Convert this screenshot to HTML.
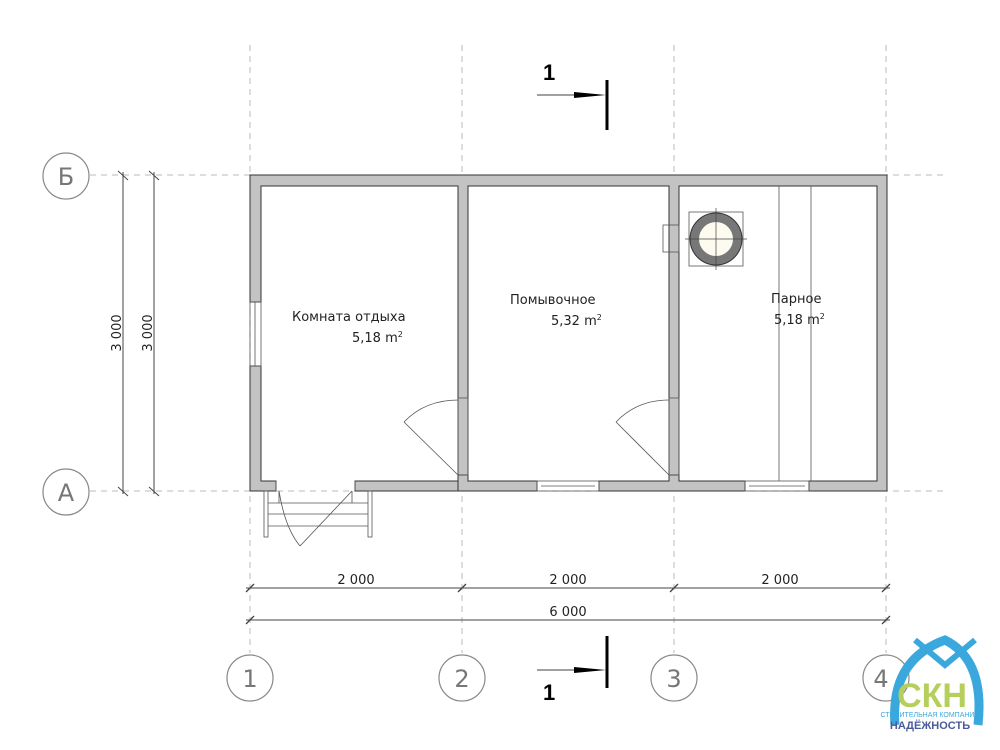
<!DOCTYPE html>
<html><head><meta charset="utf-8"><style>body{margin:0;background:#fff}svg{display:block}</style></head><body>
<svg width="1000" height="750" viewBox="0 0 1000 750" xmlns="http://www.w3.org/2000/svg" font-family="Liberation Sans, DejaVu Sans, sans-serif">
<!-- grid lines -->
<g stroke="#bbb" stroke-width="1" stroke-dasharray="6,5" fill="none">
<line x1="250" y1="45" x2="250" y2="653"/><line x1="462" y1="45" x2="462" y2="653"/><line x1="674" y1="45" x2="674" y2="653"/><line x1="886" y1="45" x2="886" y2="653"/>
<line x1="90" y1="175" x2="945" y2="175"/><line x1="90" y1="491" x2="945" y2="491"/>
</g>
<!-- walls -->
<g fill="#c3c3c3" stroke="#333" stroke-width="1">
<path d="M250,175 H887 V491 H809 V481 H877 V186 H679 V475 H669 V186 H468 V475 H458 V186 H261 V302 H250 Z"/>
<path d="M250,366 H261 V481 H276 V491 H250 Z"/>
<path d="M355,481 H458 V491 H355 Z"/>
<path d="M458,475 H468 V481 H537 V491 H458 Z"/>
<path d="M599,481 H669 V475 H679 V481 H745 V491 H599 Z"/>
</g>
<g fill="none" stroke="#555" stroke-width="0.8">
<!-- left window -->
<rect x="250" y="302" width="11" height="64"/><line x1="255" y1="302" x2="255" y2="366"/>
<!-- bottom windows -->
<rect x="537" y="481" width="62" height="10"/><line x1="541" y1="486" x2="595" y2="486"/>
<rect x="745" y="481" width="64" height="10"/><line x1="749" y1="486" x2="805" y2="486"/>
<!-- door openings -->
<rect x="458" y="398" width="10" height="77"/><rect x="669" y="398" width="10" height="77"/>
<!-- doors -->
<line x1="458" y1="475" x2="404" y2="422"/><path d="M404,422 Q425,400 458,400"/>
<line x1="669" y1="475" x2="616" y2="422"/><path d="M616,422 Q637,400 669,400"/>
<!-- entrance -->
<line x1="276" y1="481" x2="276" y2="491"/><line x1="355" y1="481" x2="355" y2="491"/>
<line x1="279" y1="491" x2="279" y2="503"/><line x1="352" y1="491" x2="352" y2="503"/>
<line x1="352" y1="491" x2="300" y2="546"/><path d="M279,491 Q285,528 300,546"/>
<!-- stairs -->
<rect x="264" y="491" width="4" height="46"/><rect x="368" y="491" width="4" height="46"/>
<line x1="268" y1="503" x2="368" y2="503"/><line x1="268" y1="514" x2="368" y2="514"/><line x1="268" y1="526" x2="368" y2="526"/>
<!-- shelves -->
<line x1="779" y1="186" x2="779" y2="481"/><line x1="811" y1="186" x2="811" y2="481"/>
<!-- stove -->
<rect x="663" y="225" width="16" height="27"/>
<rect x="689" y="212" width="54" height="54"/>
</g>
<circle cx="716" cy="239" r="26" fill="#777" stroke="#333" stroke-width="1"/>
<circle cx="716" cy="239" r="17" fill="#fdfaf0"/>
<g stroke="#444" stroke-width="0.7"><line x1="716" y1="208" x2="716" y2="270"/><line x1="685" y1="239" x2="747" y2="239"/></g>
<!-- room labels -->
<g font-size="13" fill="#222" font-family="DejaVu Sans, sans-serif">
<text x="292" y="321">Комната отдыха</text><text x="352" y="342">5,18 m<tspan font-size="8" dy="-5">2</tspan></text>
<text x="510" y="304">Помывочное</text><text x="551" y="325">5,32 m<tspan font-size="8" dy="-5">2</tspan></text>
<text x="771" y="303">Парное</text><text x="774" y="324">5,18 m<tspan font-size="8" dy="-5">2</tspan></text>
</g>
<!-- dimensions -->
<g stroke="#444" stroke-width="1">
<line x1="123" y1="172" x2="123" y2="494"/><line x1="154" y1="172" x2="154" y2="494"/>
<line x1="118" y1="171" x2="128" y2="180"/><line x1="118" y1="487" x2="128" y2="496"/>
<line x1="149" y1="171" x2="159" y2="180"/><line x1="149" y1="487" x2="159" y2="496"/>
<line x1="246" y1="588" x2="890" y2="588"/><line x1="246" y1="620" x2="890" y2="620"/>
<g stroke-width="1.3">
<line x1="246" y1="592" x2="254" y2="584"/><line x1="458" y1="592" x2="466" y2="584"/><line x1="670" y1="592" x2="678" y2="584"/><line x1="882" y1="592" x2="890" y2="584"/>
<line x1="246" y1="624" x2="254" y2="616"/><line x1="882" y1="624" x2="890" y2="616"/>
</g>
</g>
<g font-size="13" fill="#222" font-family="DejaVu Sans, sans-serif" text-anchor="middle">
<text transform="translate(121,333) rotate(-90)">3 000</text>
<text transform="translate(152,333) rotate(-90)">3 000</text>
<text x="356" y="584">2 000</text><text x="568" y="584">2 000</text><text x="780" y="584">2 000</text>
<text x="568" y="616">6 000</text>
</g>
<!-- axis circles -->
<g fill="#fff" stroke="#888" stroke-width="1.2">
<circle cx="66" cy="176" r="23"/><circle cx="66" cy="492" r="23"/>
<circle cx="250" cy="678" r="23"/><circle cx="462" cy="678" r="23"/><circle cx="674" cy="678" r="23"/><circle cx="886" cy="678" r="23"/>
</g>
<g font-size="24" fill="#777" text-anchor="middle" font-family="DejaVu Sans, sans-serif">
<text x="66" y="185">Б</text><text x="66" y="501">А</text>
<text x="250" y="687">1</text><text x="462" y="687">2</text><text x="674" y="687">3</text><text x="881" y="687">4</text>
</g>
<!-- section marks -->
<g stroke="#000">
<line x1="537" y1="95" x2="580" y2="95" stroke-width="0.8"/><line x1="607" y1="80" x2="607" y2="130" stroke-width="3"/>
<line x1="537" y1="670" x2="580" y2="670" stroke-width="0.8"/><line x1="607" y1="636" x2="607" y2="688" stroke-width="3"/>
</g>
<polygon points="574,92 606,95 574,98" fill="#000"/><polygon points="574,667 606,670 574,673" fill="#000"/>
<g font-size="22" font-weight="bold" fill="#000"><text x="543" y="80">1</text><text x="543" y="700">1</text></g>
<!-- logo -->
<path d="M895,725 Q890,660 945,640 Q985,660 978,725" fill="none" stroke="#3aa8dc" stroke-width="9"/>
<path d="M915,640 L945,665 L975,640" fill="none" stroke="#3aa8dc" stroke-width="6"/>
<text x="932" y="707" font-size="34" font-weight="bold" fill="#b5cf5a" text-anchor="middle">СКН</text>
<text x="930" y="717" font-size="7" fill="#3aa8dc" text-anchor="middle">СТРОИТЕЛЬНАЯ КОМПАНИЯ</text>
<text x="930" y="729" font-size="11" font-weight="bold" fill="#4a5a9a" text-anchor="middle">НАДЁЖНОСТЬ</text>
</svg>
</body></html>
